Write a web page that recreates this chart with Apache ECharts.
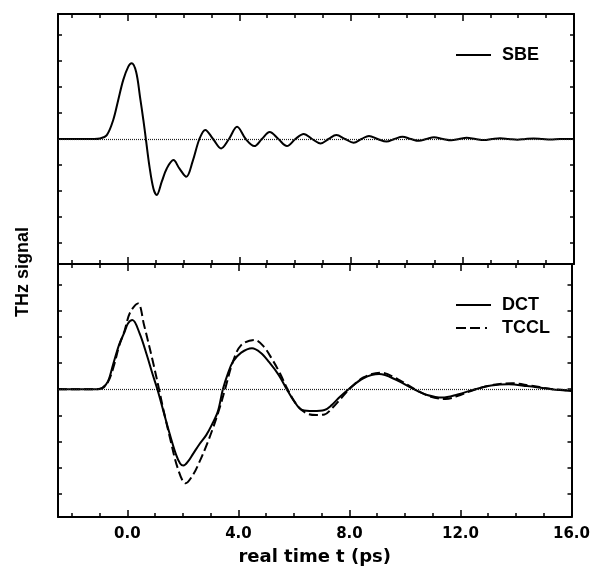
<!DOCTYPE html>
<html><head><meta charset="utf-8">
<script src="https://cdn.jsdelivr.net/npm/echarts@6/dist/echarts.min.js"></script>
<style>html,body{margin:0;padding:0;background:#fff}#c{width:593px;height:567px}</style>
</head><body><div id="c"></div>
<script>
// ---- data ----
const sbeT = [-2.5, -1.2, -1.0, -0.75, -0.52, -0.34, -0.16, 0.02, 0.14, 0.3, 0.44, 0.56, 0.65, 0.78, 0.92, 1.04, 1.22, 1.4, 1.64, 1.85, 2.1, 2.33, 2.57, 2.78, 3.06, 3.35, 3.63, 3.92, 4.23, 4.54, 4.81, 5.09, 5.4, 5.71, 6.01, 6.31, 6.61, 6.91, 7.2, 7.48, 7.79, 8.1, 8.38, 8.65, 8.96, 9.28, 9.56, 9.85, 10.15, 10.44, 10.71, 10.98, 11.3, 11.6, 11.88, 12.15, 12.47, 12.78, 13.06, 13.35, 13.66, 13.97, 14.26, 14.55, 14.86, 15.16, 15.5, 16.0];
const sbeV = [0, 0, 0.02, 0.15, 0.73, 1.5, 2.27, 2.78, 2.91, 2.58, 1.62, 0.73, 0, -1.06, -1.9, -2.15, -1.64, -1.13, -0.81, -1.13, -1.45, -0.85, 0, 0.35, 0, -0.36, 0, 0.47, 0, -0.27, 0, 0.27, 0, -0.27, 0, 0.19, 0, -0.17, 0, 0.15, 0, -0.14, 0, 0.12, 0, -0.1, 0, 0.09, 0, -0.07, 0, 0.07, 0, -0.05, 0, 0.05, 0, -0.04, 0, 0.03, 0, -0.03, 0, 0.02, 0, -0.02, 0, 0];

const dctT = [-2.5, -1.1, -0.9, -0.7, -0.52, -0.3, -0.1, 0.02, 0.18, 0.44, 0.7, 0.9, 1.08, 1.3, 1.52, 1.75, 1.9, 2.02, 2.2, 2.36, 2.6, 2.84, 3.05, 3.26, 3.44, 3.62, 3.8, 4.1, 4.49, 4.8, 5.1, 5.45, 5.74, 6.0, 6.3, 6.7, 7.1, 7.35, 7.65, 7.97, 8.5, 9.07, 9.7, 10.32, 10.8, 11.34, 11.9, 12.54, 13.1, 13.74, 14.4, 15.28, 16.0];
const dctV = [0, 0, 0.05, 0.3, 0.93, 1.7, 2.2, 2.52, 2.65, 2.14, 1.31, 0.6, 0, -0.85, -1.7, -2.5, -2.85, -2.93, -2.75, -2.49, -2.1, -1.76, -1.35, -0.85, 0, 0.6, 1.05, 1.4, 1.57, 1.4, 1.05, 0.55, 0, -0.45, -0.8, -0.84, -0.8, -0.62, -0.3, 0, 0.42, 0.58, 0.35, 0, -0.22, -0.32, -0.2, 0, 0.14, 0.19, 0.12, 0, -0.07];

const tcclT = [-2.5, -1.1, -0.9, -0.7, -0.5, -0.3, -0.1, 0.1, 0.38, 0.6, 0.92, 1.14, 1.3, 1.52, 1.82, 2.1, 2.36, 2.6, 2.85, 3.08, 3.3, 3.52, 3.8, 4.1, 4.57, 4.9, 5.23, 5.5, 5.77, 6.1, 6.45, 6.8, 7.1, 7.4, 7.7, 7.99, 8.5, 9.13, 9.75, 10.35, 10.9, 11.46, 12.0, 12.55, 13.2, 13.86, 14.5, 15.35, 16.0];
const tcclV = [0, 0, 0.04, 0.27, 0.85, 1.65, 2.25, 2.95, 3.29, 2.46, 1.05, 0, -0.8, -1.8, -3.05, -3.61, -3.29, -2.78, -2.15, -1.5, -0.8, 0, 1.05, 1.69, 1.89, 1.65, 1.12, 0.6, 0, -0.6, -0.92, -0.99, -0.97, -0.7, -0.35, 0, 0.45, 0.63, 0.38, 0, -0.28, -0.38, -0.22, 0, 0.17, 0.23, 0.14, 0, -0.05];

const xMajorTicks = [0, 4, 8, 12, 16];
const xMinorTicks = [-2, -1, 0, 1, 2, 3, 4, 5, 6, 7, 8, 9, 10, 11, 12, 13, 14, 15, 16];
const yTicks = [-4, -3, -2, -1, 0, 1, 2, 3, 4];
const seriesNames = ['SBE', 'DCT', 'TCCL'];
const xTitle = 'real time t (ps)';
const yTitle = 'THz signal';

// ---- chart ----
const zip = (a, b) => a.map((t, i) => [t, b[i]]);
const BLACK = '#000';
const TICKFONT = 'DejaVu Sans';
const TCCL_DASH = [9, 4];

function xAxesFor(grid, labels) {
  const base = {
    gridIndex: grid, type: 'value', min: -2.5, max: 16,
    splitLine: { show: false },
    axisLine: { show: true, onZero: false, lineStyle: { color: BLACK, width: 2 } }
  };
  const major = (pos, lab) => Object.assign({}, base, {
    position: pos,
    axisTick: { show: true, inside: true, length: 7, customValues: xMajorTicks, lineStyle: { color: BLACK, width: 1.5 } },
    axisLabel: lab ? {
      show: true, customValues: xMajorTicks, formatter: v => Number(v).toFixed(1),
      margin: 10, color: BLACK, fontFamily: TICKFONT, fontWeight: 'bold', fontSize: 15
    } : { show: false }
  });
  const minor = pos => Object.assign({}, base, {
    position: pos,
    axisLine: { show: false, onZero: false },
    axisTick: { show: true, inside: true, length: 4, customValues: xMinorTicks, lineStyle: { color: BLACK, width: 1.5 } },
    axisLabel: { show: false }
  });
  const arr = [major('bottom', labels), minor('bottom'), major('top', false), minor('top')];
  if (labels) {
    arr[0].name = xTitle;
    arr[0].nameLocation = 'middle';
    arr[0].nameGap = 31;
    arr[0].nameTextStyle = { color: BLACK, fontFamily: TICKFONT, fontWeight: 'bold', fontSize: 18 };
  }
  return arr;
}
function yAxesFor(grid, mn, mx) {
  return ['left', 'right'].map(pos => ({
    gridIndex: grid, type: 'value', min: mn, max: mx, position: pos,
    splitLine: { show: false },
    axisLine: { show: true, onZero: false, lineStyle: { color: BLACK, width: 2 } },
    axisTick: { show: true, inside: true, length: 4, customValues: yTicks, lineStyle: { color: BLACK, width: 1.5 } },
    axisLabel: { show: false }
  }));
}
const zeroLine = {
  silent: true, symbol: ['none', 'none'], animation: false,
  label: { show: false },
  lineStyle: { color: '#222', width: 1.2, type: [1, 1] },
  data: [{ yAxis: 0 }]
};

// legend drawn as plain graphic items (line sample + label)
function legendItem(x, y, label, dash) {
  return [
    { type: 'line', shape: { x1: x, y1: y, x2: x + 35, y2: y },
      style: { stroke: BLACK, lineWidth: 2, lineDash: dash || null } },
    { type: 'text', x: x + 46, y: y,
      style: { text: label, fill: BLACK, font: 'bold 18px "Liberation Sans"', align: 'left', verticalAlign: 'middle' } }
  ];
}

const option = {
  animation: false,
  backgroundColor: '#fff',
  grid: [
    { left: 58, right: 19, top: 14, height: 250 },
    { left: 58, right: 19, top: 264, height: 253 }
  ],
  xAxis: [...xAxesFor(0, false), ...xAxesFor(1, true)],
  yAxis: [...yAxesFor(0, -4.8, 4.8), ...yAxesFor(1, -4.9, 4.8)],
  series: [
    {
      name: seriesNames[0], type: 'line', xAxisIndex: 0, yAxisIndex: 0,
      data: zip(sbeT, sbeV), smooth: 0.35, symbol: 'none',
      lineStyle: { color: BLACK, width: 2 }, itemStyle: { color: BLACK },
      markLine: zeroLine, z: 3
    },
    {
      name: seriesNames[1], type: 'line', xAxisIndex: 4, yAxisIndex: 2,
      data: zip(dctT, dctV), smooth: 0.35, symbol: 'none',
      lineStyle: { color: BLACK, width: 2 }, itemStyle: { color: BLACK },
      markLine: zeroLine, z: 3
    },
    {
      name: seriesNames[2], type: 'line', xAxisIndex: 4, yAxisIndex: 2,
      data: zip(tcclT, tcclV), smooth: 0.35, symbol: 'none',
      lineStyle: { color: BLACK, width: 2, type: TCCL_DASH }, itemStyle: { color: BLACK }, z: 3
    }
  ],
  graphic: [
    ...legendItem(456, 55, seriesNames[0]),
    ...legendItem(456, 305, seriesNames[1]),
    ...legendItem(456, 328, seriesNames[2], [10, 4, 10, 5, 2, 4]),
    {
      type: 'text', x: 23, y: 272, rotation: Math.PI / 2,
      style: {
        text: yTitle, fill: BLACK, font: 'bold 18px "Liberation Sans"',
        align: 'center', verticalAlign: 'middle'
      }
    }
  ]
};
const chart = echarts.init(document.getElementById('c'), null, { renderer: 'canvas' });
chart.setOption(option);
</script></body></html>
